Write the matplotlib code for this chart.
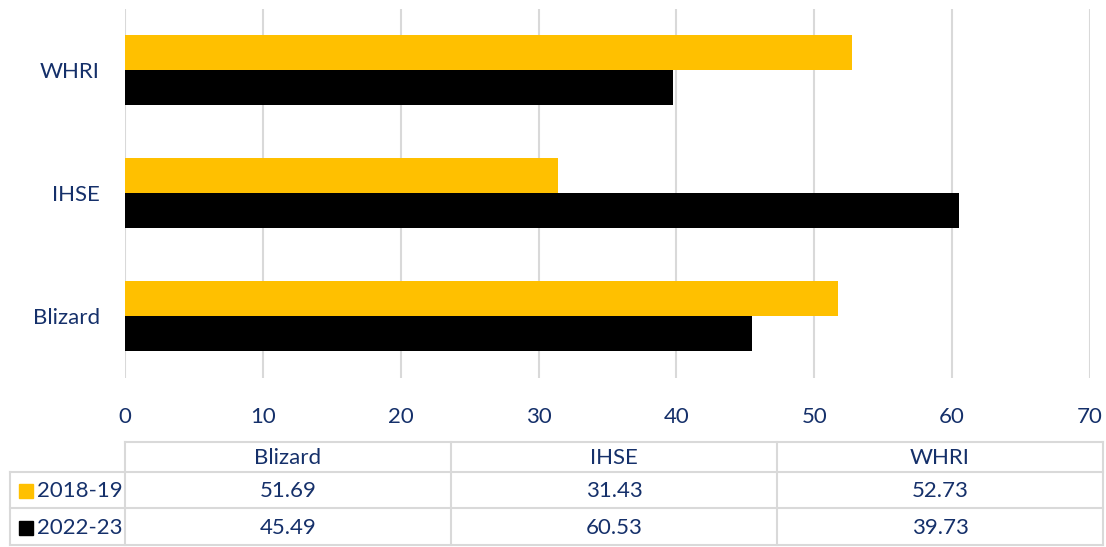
import matplotlib
matplotlib.use("Agg")
import matplotlib.pyplot as plt
from matplotlib.lines import Line2D
from matplotlib.patches import Rectangle

categories = ["Blizard", "IHSE", "WHRI"]
series_names = ["2018-19", "2022-23"]
values_2018 = [51.69, 31.43, 52.73]
values_2022 = [45.49, 60.53, 39.73]
colors = ["#FFC000", "#000000"]
xticks = [0, 10, 20, 30, 40, 50, 60, 70]

TXT = "#15306A"
GRID = "#D9D9D9"
FS = 16
plt.rcParams['font.family'] = ['Lato', 'DejaVu Sans']

W, H = 1106, 547
fig = plt.figure(figsize=(W / 100, H / 100), dpi=100)

# main bar axes
x0, x1 = 125, 1090
ytop, ybot = 8.5, 377.5
ax = fig.add_axes([x0 / W, 1 - ybot / H, (x1 - x0) / W, (ybot - ytop) / H])
ax.set_xlim(0, 70)
ax.set_ylim(-0.5, 2.5)
bh = 0.285
pos = list(range(len(categories)))
ax.barh([p + bh / 2 for p in pos], values_2018, height=bh, color=colors[0], zorder=3)
ax.barh([p - bh / 2 for p in pos], values_2022, height=bh, color=colors[1], zorder=3)
ax.set_yticks(pos)
ax.set_yticklabels(categories, fontsize=FS, color=TXT)
ax.set_xticks(xticks)
ax.set_xticklabels([str(t) for t in xticks], fontsize=FS, color=TXT)
ax.tick_params(axis='both', length=0)
ax.tick_params(axis='y', pad=18)
ax.tick_params(axis='x', pad=21)
ax.grid(axis='x', color=GRID, linewidth=1.5, zorder=0)
for s in ax.spines.values():
    s.set_visible(False)

# table drawn in a pixel-coordinate axes
tax = fig.add_axes([0, 0, 1, 1])
tax.set_xlim(0, W)
tax.set_ylim(H, 0)
tax.axis('off')
col_edges = [125, 451, 777, 1103]
row_edges = [442, 472, 508, 545]
lw = 1.5
tax.add_line(Line2D([col_edges[0], col_edges[-1]], [row_edges[0]] * 2, color=GRID, lw=lw))
for y in row_edges[1:]:
    tax.add_line(Line2D([10, col_edges[-1]], [y, y], color=GRID, lw=lw))
for x in col_edges:
    tax.add_line(Line2D([x, x], [row_edges[0], row_edges[-1]], color=GRID, lw=lw))
tax.add_line(Line2D([10, 10], [row_edges[1], row_edges[-1]], color=GRID, lw=lw))

for i, c in enumerate(categories):
    cx = (col_edges[i] + col_edges[i + 1]) / 2
    tax.text(cx, (row_edges[0] + row_edges[1]) / 2 + 1, c, ha='center', va='center', fontsize=FS, color=TXT)

rows = [values_2018, values_2022]
for r, (name, vals) in enumerate(zip(series_names, rows)):
    cy = (row_edges[r + 1] + row_edges[r + 2]) / 2 + 1
    tax.add_patch(Rectangle((19, cy - 7), 14, 14, color=colors[r]))
    tax.text(37, cy, name, ha='left', va='center', fontsize=FS, color=TXT)
    for i, v in enumerate(vals):
        cx = (col_edges[i] + col_edges[i + 1]) / 2
        tax.text(cx, cy, f"{v:.2f}", ha='center', va='center', fontsize=FS, color=TXT)

fig.savefig("out.png", dpi=100)
